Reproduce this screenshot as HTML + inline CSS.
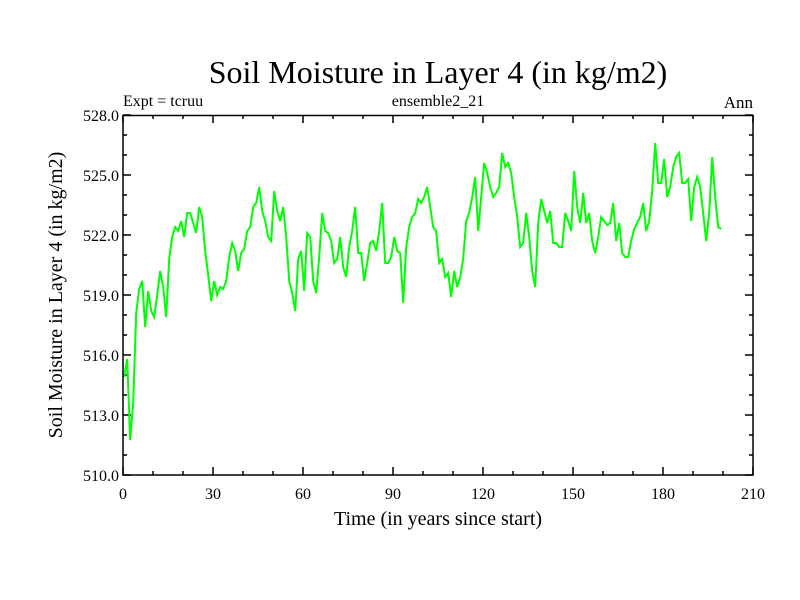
<!DOCTYPE html>
<html><head><meta charset="utf-8"><style>
body{margin:0;background:#fff}
svg{display:block}
text{font-family:"Liberation Serif",serif;fill:#000}
</style></head><body>
<svg id="chart" width="800" height="600">
<text x="438" y="83" font-size="32" text-anchor="middle">Soil Moisture in Layer 4 (in kg/m2)</text>
<text x="123" y="106" font-size="16">Expt = tcruu</text>
<text x="438" y="106" font-size="16" text-anchor="middle">ensemble2_21</text>
<text x="753" y="108" font-size="17" text-anchor="end">Ann</text>
<text x="438" y="525" font-size="20" text-anchor="middle">Time (in years since start)</text>
<text transform="translate(62,295) rotate(-90)" font-size="20" text-anchor="middle">Soil Moisture in Layer 4 (in kg/m2)</text>
<g id="axes"></g>
<path id="series" fill="none" stroke="#00ff00" stroke-width="2"/>
<rect x="123" y="115.5" width="630" height="359.5" fill="none" stroke="#000" stroke-width="1.5"/>
</svg>
<script>
const xTicks=[0,30,60,90,120,150,180,210];
const yTicks=[510.0,513.0,516.0,519.0,522.0,525.0,528.0];
const values=[514.9,515.8,511.75,513.6,518.1,519.3,519.7,517.4,519.2,518.2,517.9,519.0,520.2,519.4,517.9,520.8,521.9,522.4,522.2,522.7,521.9,523.1,523.1,522.6,522.1,523.4,522.9,521.2,520.0,518.7,519.7,519.0,519.4,519.3,519.7,520.9,521.6,521.2,520.2,521.1,521.3,522.2,522.4,523.4,523.6,524.4,523.2,522.7,521.9,521.7,524.2,523.2,522.7,523.4,521.9,519.7,519.1,518.2,520.8,521.2,519.2,522.1,521.9,519.7,519.1,520.9,523.1,522.2,522.1,521.7,520.6,520.8,521.9,520.4,519.9,521.4,522.2,523.4,521.1,521.1,519.7,520.6,521.6,521.7,521.2,522.2,523.6,520.6,520.6,520.9,521.9,521.2,521.1,518.6,521.4,522.4,522.9,523.1,523.8,523.6,523.9,524.4,523.4,522.4,522.2,520.6,520.8,519.9,520.1,518.9,520.2,519.4,519.9,520.8,522.7,523.1,523.9,524.9,522.2,523.9,525.6,525.1,524.4,523.9,524.1,524.4,526.1,525.4,525.6,525.1,523.9,522.9,521.4,521.6,523.1,521.9,520.2,519.4,522.6,523.8,523.2,522.6,523.2,521.6,521.6,521.4,521.4,523.1,522.7,522.2,525.2,523.4,522.6,524.1,522.6,523.1,521.7,521.1,521.9,522.9,522.7,522.5,522.6,523.6,521.7,522.6,521.1,520.9,520.9,521.7,522.3,522.6,522.9,523.6,522.2,522.7,524.2,526.6,524.6,524.6,525.8,523.9,524.4,525.4,525.9,526.1,524.6,524.6,524.8,522.7,524.4,524.9,524.4,523.1,521.7,523.1,525.9,523.9,522.4,522.3];
const L=123,R=753,T=115,B=475;
const xs=v=>L+(v-0)/(210-0)*(R-L);
const ys=v=>B-(v-510)/(528-510)*(B-T);
const ns='http://www.w3.org/2000/svg';
const g=document.getElementById('axes');
function line(x1,y1,x2,y2,name){const l=document.createElementNS(ns,'line');
l.setAttribute('x1',x1);l.setAttribute('y1',y1);l.setAttribute('x2',x2);l.setAttribute('y2',y2);
l.setAttribute('stroke','#000');l.setAttribute('stroke-width','1.5');


g.appendChild(l);}
function txt(x,y,s,anchor,name){const t=document.createElementNS(ns,'text');
t.setAttribute('x',x);t.setAttribute('y',y);t.setAttribute('font-size','16');t.setAttribute('text-anchor',anchor);t.textContent=s;


g.appendChild(t);}
for(let v=0;v<=210;v+=10){const x=xs(v);const len=(v%30===0)?8:4;
line(x,B,x,B-len,'x-tick');line(x,T,x,T+len,'x-tick-top');}
xTicks.forEach(v=>txt(xs(v),B+24,String(v),'middle','x-tick-label'));
for(let v=510;v<=528;v+=1){const y=ys(v);const len=((v-510)%3===0)?8:4;
line(L,y,L+len,y,'y-tick');line(R,y,R-len,y,'y-tick-right');}
yTicks.forEach(v=>txt(L-4,ys(v)+6,v.toFixed(1),'end','y-tick-label'));
document.getElementById('series').setAttribute('d',values.map((v,i)=>(i?'L':'M')+xs(i+0.4).toFixed(1)+','+ys(v).toFixed(1)).join(''));
</script>
</body></html>
